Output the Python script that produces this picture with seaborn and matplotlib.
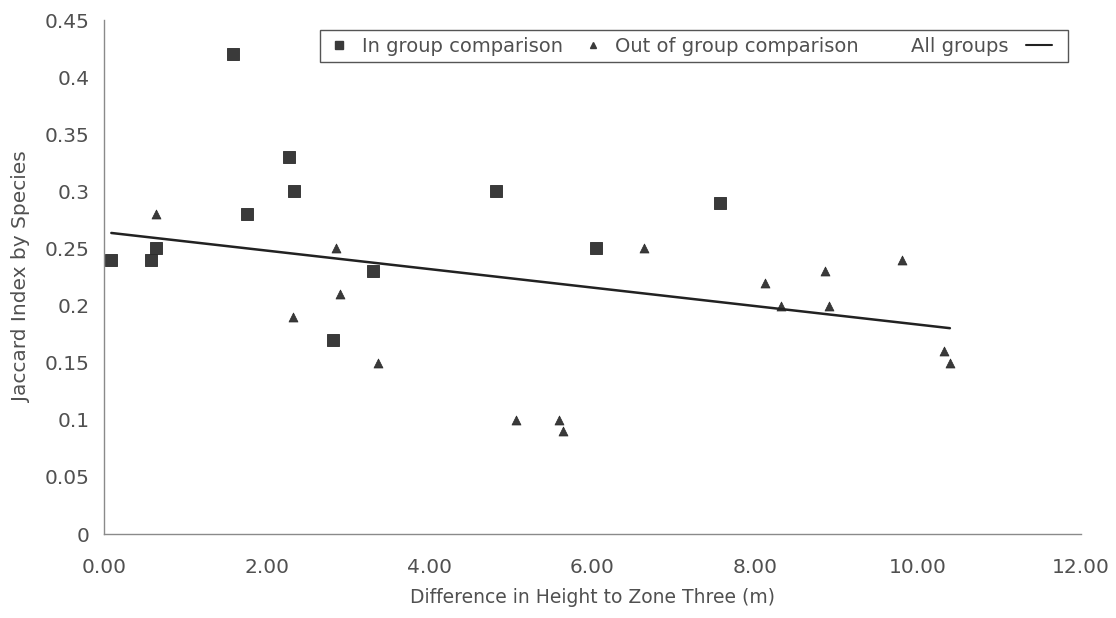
import pandas as pd
import matplotlib.pyplot as plt
import seaborn as sns
from matplotlib.lines import Line2D

# Dados
in_x = [0.09, 0.58, 0.64, 1.58, 1.76, 2.27, 2.33, 2.81, 3.30, 4.82, 6.04, 7.57]
in_y = [0.24, 0.24, 0.25, 0.42, 0.28, 0.33, 0.30, 0.17, 0.23, 0.30, 0.25, 0.29]

out_x = [0.64, 2.32, 2.85, 2.90, 3.37, 5.06, 5.59, 5.64, 6.63, 8.12, 8.31, 8.85, 8.90, 9.80, 10.32, 10.39]
out_y = [0.28, 0.19, 0.25, 0.21, 0.15, 0.10, 0.10, 0.09, 0.25, 0.22, 0.20, 0.23, 0.20, 0.24, 0.16, 0.15]

x_ticks = [0, 2, 4, 6, 8, 10, 12]
x_tick_labels = ['0.00', '2.00', '4.00', '6.00', '8.00', '10.00', '12.00']
y_ticks = [0, 0.05, 0.1, 0.15, 0.2, 0.25, 0.3, 0.35, 0.4, 0.45]
y_tick_labels = ['0', '0.05', '0.1', '0.15', '0.2', '0.25', '0.3', '0.35', '0.4', '0.45']

df_in = pd.DataFrame({'x': in_x, 'y': in_y})
df_out = pd.DataFrame({'x': out_x, 'y': out_y})
df_all = pd.concat([df_in, df_out], ignore_index=True)

sns.set_style('white')
plt.rcParams['font.family'] = ['DejaVu Sans']

text_color = '#505050'
mark_color = '#3a3a3a'
axis_color = '#8a8a8a'

fig, ax = plt.subplots(figsize=(11.16, 6.18), dpi=100)
fig.subplots_adjust(left=0.0932, right=0.9686, bottom=0.1359, top=0.9676)

# Pontos de cada grupo
sns.scatterplot(data=df_in, x='x', y='y', marker='s', s=70, color=mark_color,
                edgecolor='#2a2a2a', linewidth=0.6, ax=ax, legend=False)
sns.scatterplot(data=df_out, x='x', y='y', marker='^', s=42, color=mark_color,
                edgecolor='#2a2a2a', linewidth=0.5, ax=ax, legend=False)

# Reta de regressão com todos os grupos
sns.regplot(data=df_all, x='x', y='y', scatter=False, ci=None, truncate=True,
            color='#222222', line_kws={'linewidth': 1.8}, ax=ax)

ax.set_xlim(0, 12)
ax.set_ylim(0, 0.45)
ax.set_xticks(x_ticks)
ax.set_xticklabels(x_tick_labels)
ax.set_yticks(y_ticks)
ax.set_yticklabels(y_tick_labels)
ax.tick_params(axis='both', labelsize=14.5, colors=text_color, direction='inout',
               length=5, width=0.8, color=axis_color)
ax.tick_params(axis='x', pad=15)
ax.tick_params(axis='y', pad=8)

for side in ['top', 'right']:
    ax.spines[side].set_visible(False)
for side in ['left', 'bottom']:
    ax.spines[side].set_color(axis_color)
    ax.spines[side].set_linewidth(1.0)

ax.set_xlabel('Difference in Height to Zone Three (m)', fontsize=13.5, color=text_color, labelpad=8)
ax.set_ylabel('Jaccard Index by Species', fontsize=14.5, color=text_color, labelpad=10)

# Legenda com a linha depois do texto
handles = [
    Line2D([], [], marker='s', linestyle='none', color=mark_color, markersize=5.5),
    Line2D([], [], marker='^', linestyle='none', color=mark_color, markersize=5),
    Line2D([], [], linestyle='none'),
    Line2D([], [], color='#222222', linewidth=1.5),
]
labels = ['In group comparison', 'Out of group comparison', 'All groups', '']
leg = ax.legend(handles, labels, ncol=4, loc='upper right', bbox_to_anchor=(0.987, 0.981),
                borderaxespad=0, fontsize=14, frameon=True, fancybox=False, framealpha=1,
                edgecolor='#555555', handlelength=1.3, handletextpad=0.5,
                columnspacing=0.9, borderpad=0.35)
leg.get_frame().set_linewidth(1.0)
for t in leg.get_texts():
    t.set_color(text_color)

fig.savefig('out.png', dpi=100)
